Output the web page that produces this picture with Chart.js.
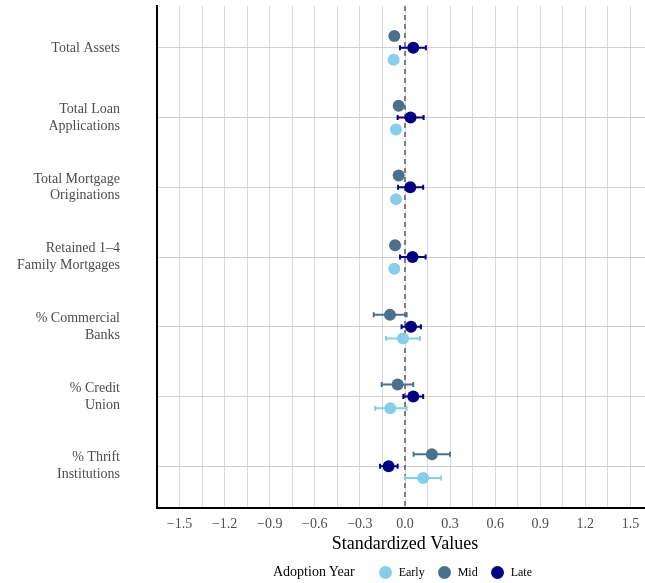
<!DOCTYPE html>
<html>
<head>
<meta charset="utf-8">
<script src="https://cdn.jsdelivr.net/npm/chart.js@4/dist/chart.umd.min.js"></script>
<style>
  html, body { margin: 0; overflow: hidden; background: #fff; }
  #wrap { position: relative; width: 659px; height: 583px; }
  #myChart { display: block; width: 659px; height: 583px; }
  #legend {
    position: absolute; left: 273px; top: 563px; height: 18px;
    display: flex; align-items: center;
    font-family: "Liberation Serif", "DejaVu Serif", serif; color: #000;
  }
  #legend .title { font-size: 14px; margin-right: 24px; }
  #legend .dot { width: 13px; height: 13px; border-radius: 50%; margin-right: 7px; }
  #legend .lab { font-size: 12px; margin-right: 13px; }
</style>
</head>
<body>
<div id="wrap">
  <canvas id="myChart" width="659" height="583"></canvas>
  <div id="legend"></div>
</div>
<script>
// categories, top to bottom
const categories = [
  ['Total Assets'],
  ['Total Loan', 'Applications'],
  ['Total Mortgage', 'Originations'],
  ['Retained 1\u20134', 'Family Mortgages'],
  ['% Commercial', 'Banks'],
  ['% Credit', 'Union'],
  ['% Thrift', 'Institutions']
];

// estimates and interval ends per adoption group
const earlyValues = [-0.076, -0.060, -0.060, -0.071, -0.013, -0.098, 0.121];
const earlyLow    = [-0.090, -0.075, -0.075, -0.085, -0.126, -0.199, 0.000];
const earlyHigh   = [-0.062, -0.045, -0.045, -0.057, 0.100, 0.011, 0.239];

const midValues = [-0.071, -0.042, -0.042, -0.066, -0.100, -0.049, 0.179];
const midLow    = [-0.085, -0.056, -0.056, -0.080, -0.208, -0.155, 0.057];
const midHigh   = [-0.057, -0.028, -0.028, -0.052, 0.011, 0.055, 0.299];

const lateValues = [0.055, 0.037, 0.035, 0.050, 0.040, 0.055, -0.109];
const lateLow    = [-0.033, -0.049, -0.046, -0.033, -0.023, -0.011, -0.166];
const lateHigh   = [0.139, 0.124, 0.121, 0.137, 0.106, 0.121, -0.049];

// x axis ticks and labels
const xTicks = [-1.5, -1.2, -0.9, -0.6, -0.3, 0, 0.3, 0.6, 0.9, 1.2, 1.5];
const xTickLabels = ['\u22121.5', '\u22121.2', '\u22120.9', '\u22120.6', '\u22120.3', '0.0', '0.3', '0.6', '0.9', '1.2', '1.5'];

const groups = [
  { label: 'Early', color: '#87CEEB', offset: 0.17, values: earlyValues, low: earlyLow, high: earlyHigh },
  { label: 'Mid', color: '#4A708B', offset: -0.17, values: midValues, low: midLow, high: midHigh },
  { label: 'Late', color: '#000080', offset: 0, values: lateValues, low: lateLow, high: lateHigh }
];

const serif = '"Liberation Serif", "DejaVu Serif", serif';

// grid every 0.15, labels every 0.3
const gridValues = [];
for (let i = -11; i <= 11; i++) gridValues.push(i * 0.15);

const datasets = groups.map(function (g) {
  return {
    label: g.label,
    data: g.values.map(function (v, i) {
      return { x: v, y: i + g.offset, low: g.low[i], high: g.high[i] };
    }),
    backgroundColor: g.color,
    borderWidth: 0,
    pointRadius: 6,
    pointHoverRadius: 6
  };
});

// error bars + dashed zero line
const errorBars = {
  id: 'errorBars',
  beforeDatasetsDraw(chart) {
    const c = chart.ctx;
    const xs = chart.scales.x, ys = chart.scales.y;
    const area = chart.chartArea;
    c.save();
    c.strokeStyle = '#7f7f7f';
    c.lineWidth = 2;
    c.setLineDash([5, 4]);
    const x0 = xs.getPixelForValue(0);
    c.beginPath();
    c.moveTo(x0, area.top);
    c.lineTo(x0, area.bottom);
    c.stroke();
    c.setLineDash([]);

    chart.data.datasets.forEach(function (ds) {
      c.strokeStyle = ds.backgroundColor;
      c.lineWidth = 2;
      ds.data.forEach(function (p) {
        const y = ys.getPixelForValue(p.y);
        const a = xs.getPixelForValue(p.low);
        const b = xs.getPixelForValue(p.high);
        c.beginPath();
        c.moveTo(a, y); c.lineTo(b, y);
        c.moveTo(a, y - 2.5); c.lineTo(a, y + 2.5);
        c.moveTo(b, y - 2.5); c.lineTo(b, y + 2.5);
        c.stroke();
      });
    });
    c.restore();
  }
};

const ctx = document.getElementById('myChart').getContext('2d');

const chart = new Chart(ctx, {
  type: 'scatter',
  data: { datasets: datasets },
  options: {
    responsive: false,
    animation: false,
    layout: { padding: { top: 6, right: 1, bottom: 27, left: 0 } },
    plugins: {
      legend: { display: false },
      tooltip: { enabled: false }
    },
    scales: {
      x: {
        type: 'linear',
        min: -1.65,
        max: 1.65,
        afterBuildTicks: function (axis) {
          axis.ticks = gridValues.map(function (v) { return { value: v }; });
        },
        afterFit: function (axis) {
          axis.height = 48;
          axis.paddingLeft = 0;
          axis.paddingRight = 0;
        },
        ticks: {
          autoSkip: false,
          maxRotation: 0,
          padding: 8,
          color: '#4d4d4d',
          font: { family: serif, size: 14 },
          callback: function (v) {
            const k = xTicks.findIndex(function (t) { return Math.abs(t - v) < 1e-6; });
            return k >= 0 ? xTickLabels[k] : '';
          }
        },
        grid: { color: '#d9d9d9', lineWidth: 1, drawTicks: false },
        border: { display: true, color: '#000', width: 2 },
        title: {
          display: true,
          text: 'Standardized Values',
          color: '#000',
          font: { family: serif, size: 18 },
          padding: { top: 0, bottom: 1 }
        }
      },
      y: {
        type: 'linear',
        reverse: true,
        min: -0.6,
        max: 6.6,
        afterBuildTicks: function (axis) {
          axis.ticks = categories.map(function (c, i) { return { value: i }; });
        },
        afterFit: function (axis) {
          axis.width = 157;
          axis.paddingTop = 0;
          axis.paddingBottom = 0;
        },
        ticks: {
          autoSkip: false,
          padding: 37,
          color: '#4d4d4d',
          font: { family: serif, size: 14 },
          callback: function (v) { return categories[v]; }
        },
        grid: { color: '#d0d0d0', lineWidth: 1, drawTicks: false },
        border: { display: true, color: '#000', width: 2 }
      }
    }
  },
  plugins: [errorBars]
});

// legend
const legendBox = document.getElementById('legend');
const legendTitle = document.createElement('span');
legendTitle.className = 'title';
legendTitle.textContent = 'Adoption Year';
legendBox.appendChild(legendTitle);
groups.forEach(function (g) {
  const dot = document.createElement('span');
  dot.className = 'dot';
  dot.style.background = g.color;
  const lab = document.createElement('span');
  lab.className = 'lab';
  lab.textContent = g.label;
  legendBox.appendChild(dot);
  legendBox.appendChild(lab);
});
</script>
</body>
</html>
